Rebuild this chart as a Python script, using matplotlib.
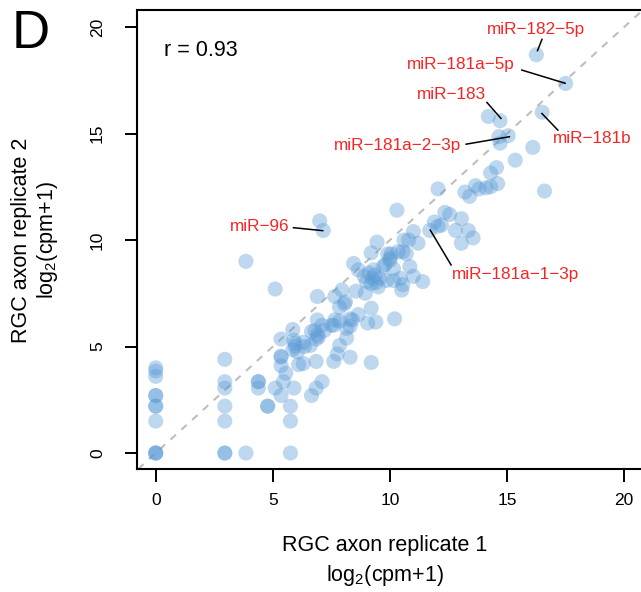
import numpy as np
import matplotlib
matplotlib.use("Agg")
import matplotlib.pyplot as plt

plt.rcParams['font.family'] = ['Liberation Sans', 'DejaVu Sans']
plt.rcParams['mathtext.fontset'] = 'custom'
plt.rcParams['mathtext.rm'] = 'Liberation Sans'
plt.rcParams['mathtext.it'] = 'Liberation Sans:italic'

# log2(cpm+1), replicate 1 (x) vs replicate 2 (y)
rep1 = [0, 0, 0, 0, 0, 0, 0, 0, 0, 0, 0,
        2.95, 2.95, 2.95, 2.95, 2.95, 2.95, 2.95,
        3.85, 3.85, 4.38, 4.38, 4.38, 4.78, 4.78,
        5.1, 5.1, 5.35, 5.35, 5.35, 5.35, 5.55, 5.45, 5.35, 5.75, 5.75, 5.75,
        5.9, 5.85, 5.9, 5.95, 5.85, 6.05, 5.95, 6.1, 6.3, 6.3, 6.35, 6.6,
        6.65, 6.85, 7.1, 6.85, 6.8, 6.9, 6.95, 6.85, 6.65, 7.2, 7.1, 6.9, 6.9,
        7.6, 7.65, 7.5, 7.6, 7.75, 7.85, 8.15, 8.3, 7.85, 8.3, 8.4, 8.15, 8.3,
        8.65, 7.65, 7.95, 8.1, 8.05, 7.85, 8.45, 8.65, 8.55, 8.95, 9.2, 9.05,
        9.4, 9.2, 9.5, 9.2, 9.45, 9.7, 9.9, 9.85,
        8.9, 9.1, 9.25, 9.4, 9.2, 9.35, 9.55, 9.0, 9.3,
        9.8, 10.0, 10.15, 10.05, 10.0, 10.35, 10.55, 10.7, 10.6, 10.8, 11.2,
        11.0, 10.3, 10.85, 11.0, 11.4, 10.45, 10.55, 10.5, 10.15, 10.2,
        11.7, 11.9, 12.05, 12.2, 12.35, 12.55, 12.8, 13.05, 13.05, 13.35, 13.55,
        12.05, 13.2, 13.4, 13.65, 13.8, 14.1, 14.3, 14.6, 14.3, 14.55, 15.35,
        16.1, 14.65, 14.7, 15.05, 14.2, 14.7, 16.5, 16.25, 17.5, 16.6,
        7.0, 7.15]
rep2 = [4.0, 3.85, 3.6, 2.7, 2.7, 2.2, 2.2, 1.5, 0, 0, 0,
        4.4, 3.35, 3.05, 2.2, 1.5, 0, 0,
        9.0, 0, 3.35, 3.35, 3.05, 2.2, 2.2,
        7.7, 3.05, 5.35, 4.5, 4.55, 4.1, 3.75, 3.35, 2.7, 2.2, 1.5, 0,
        3.05, 5.8, 5.3, 5.0, 4.85, 4.75, 5.15, 4.15, 4.2, 5.2, 5.0, 5.05,
        2.7, 3.05, 3.35, 4.3, 5.75, 5.55, 5.45, 5.35, 5.7, 5.75, 6.0, 6.25, 7.35,
        6.0, 6.25, 6.0, 4.3, 4.65, 5.05, 5.4, 4.5, 6.2, 6.3, 6.25, 5.85, 5.95,
        6.5, 7.35, 7.65, 7.1, 7.0, 6.85, 8.9, 8.6, 7.6, 7.5, 6.8, 6.1,
        6.15, 4.25, 7.8, 9.4, 9.9, 8.75, 9.35, 8.1,
        8.3, 8.45, 8.2, 8.0, 7.95, 8.35, 8.2, 8.05, 8.6,
        8.85, 9.05, 8.65, 9.35, 9.15, 9.45, 9.45, 9.35, 10.0, 10.0, 9.85,
        10.4, 11.4, 8.75, 8.3, 8.05, 8.2, 7.9, 7.65, 8.1, 6.3,
        10.45, 10.85, 10.65, 10.7, 11.3, 11.2, 10.45, 11.0, 9.85, 10.45, 10.1,
        12.4, 12.25, 12.05, 12.55, 12.4, 12.45, 12.5, 12.65, 13.15, 13.4, 13.75,
        14.35, 14.85, 14.55, 14.9, 15.8, 15.6, 16.0, 18.7, 17.35, 12.3,
        10.9, 10.45]

# highlighted miRNAs: name, point, leader line start, text position
mirnas = ['miR−182−5p', 'miR−181a−5p', 'miR−183', 'miR−181a−2−3p',
          'miR−181b', 'miR−96', 'miR−181a−1−3p']
mir_x = [16.3, 17.48, 14.74, 15.1, 17.17, 7.13, 11.72]
mir_y = [18.89, 17.36, 15.71, 14.85, 15.16, 10.44, 10.47]
line_x = [16.49, 15.63, 14.14, 13.25, 16.49, 5.88, 12.61]
line_y = [19.42, 17.98, 16.46, 14.5, 15.94, 10.58, 8.83]
text_x = [16.24, 13.04, 12.64, 10.31, 18.62, 4.44, 15.37]
text_y = [19.9, 18.22, 16.84, 14.43, 14.77, 10.62, 8.36]

fig = plt.figure(figsize=(6.41, 5.92), dpi=100)
ax = fig.add_axes([137 / 641, 123 / 592, 508 / 641, 459 / 592])

ax.axline((0, 0), slope=1, color='#BEBEBE', lw=1.5, dashes=(3.5, 3.5), zorder=1)
ax.scatter(rep1, rep2, s=118, color='#5B9BD5', alpha=0.4, edgecolors='none', zorder=2)

for i in range(len(mirnas)):
    ax.plot([line_x[i], mir_x[i]], [line_y[i], mir_y[i]], color='black', lw=1.1, zorder=3)
    ax.text(text_x[i], text_y[i], mirnas[i], color='#F52525', fontsize=12.3,
            ha='center', va='center', zorder=4)

ax.text(0.35, 18.9, 'r = 0.93', fontsize=15.5, ha='left', va='center')

ax.set_xlim(-0.8, 20.89)
ax.set_ylim(-0.75, 20.8)
ax.set_xticks([0, 5, 10, 15, 20])
ax.set_yticks([0, 5, 10, 15, 20])
ax.tick_params(axis='both', direction='out', length=9, width=1.4, labelsize=12.5)
ax.tick_params(axis='x', pad=8)
ax.tick_params(axis='y', pad=14, labelrotation=90)
for lab in ax.get_yticklabels():
    lab.set_va('center')
for sp in ax.spines.values():
    sp.set_linewidth(1.5)

fig.text(385 / 641, 1 - 546 / 592, 'RGC axon replicate 1', fontsize=15.5, ha='center', va='center')
fig.text(385 / 641, 1 - 575 / 592, r'$\mathrm{log_2(cpm{+}1)}$', fontsize=15.5, ha='center', va='center')
fig.text(22 / 641, 1 - 240 / 592, 'RGC axon replicate 2', fontsize=15.5, ha='center', va='center', rotation=90)
fig.text(47 / 641, 1 - 240 / 592, r'$\mathrm{log_2(cpm{+}1)}$', fontsize=15.5, ha='center', va='center', rotation=90)
fig.text(31 / 641, 1 - 34 / 592, 'D', fontsize=38, ha='center', va='center')

fig.savefig('out.png', dpi=100)
